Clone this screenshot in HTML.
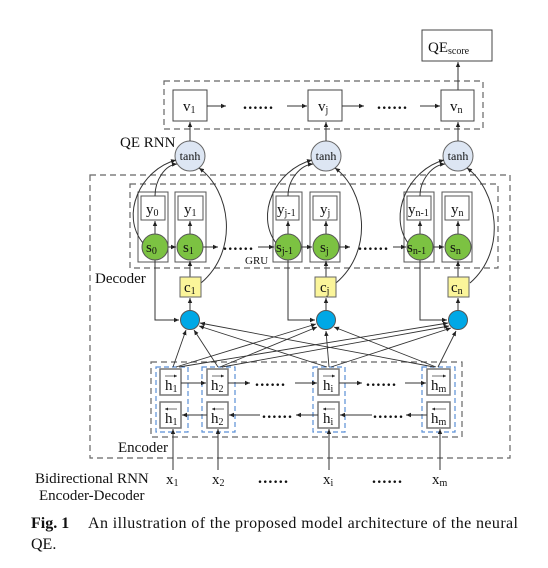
<!DOCTYPE html>
<html><head><meta charset="utf-8"><style>
html,body{margin:0;padding:0;background:#fff;width:548px;height:568px;overflow:hidden}
svg{display:block}
text{font-family:"Liberation Serif",serif;fill:#111}
.d{font-size:16px;letter-spacing:1.2px;font-weight:bold}
</style></head><body>
<svg width="548" height="568" viewBox="0 0 548 568" xmlns="http://www.w3.org/2000/svg">
<defs>
<marker id="a" markerWidth="6" markerHeight="6" refX="5" refY="3" orient="auto" markerUnits="userSpaceOnUse"><path d="M0,0.8 L5,3 L0,5.2 z" fill="#222"/></marker>
<marker id="b" markerWidth="4" markerHeight="4" refX="3" refY="2" orient="auto" markerUnits="userSpaceOnUse"><path d="M0,0.5 L3,2 L0,3.5 z" fill="#222"/></marker>
</defs>
<g fill="none" stroke="#666" stroke-width="1.2" stroke-dasharray="6,4">
<rect x="164" y="81" width="319" height="48"/>
<rect x="90" y="175" width="420" height="283"/>
<rect x="130" y="184" width="368" height="84"/>
<rect x="151" y="362" width="311" height="75"/>
</g>
<g fill="none" stroke="#5a8fd6" stroke-width="1.2" stroke-dasharray="5,3">
<rect x="156" y="367" width="32" height="65"/>
<rect x="202" y="367" width="33" height="65"/>
<rect x="313" y="367" width="32" height="65"/>
<rect x="422" y="367" width="33" height="65"/>
</g>
<rect x="422" y="30" width="70" height="31" fill="#fff" stroke="#444"/>
<text x="428" y="52" font-size="15">QE<tspan font-size="10" dy="2">score</tspan></text>
<line x1="458" y1="90" x2="458" y2="62" stroke="#333" marker-end="url(#a)"/>
<g stroke="#444" fill="#fff">
<rect x="173" y="90" width="34" height="31"/><rect x="308" y="90" width="34" height="31"/><rect x="441" y="90" width="33" height="31"/>
</g>
<text x="183" y="111" font-size="15">v<tspan font-size="10" dy="2">1</tspan></text>
<text x="318" y="111" font-size="15">v<tspan font-size="10" dy="2">j</tspan></text>
<text x="450" y="111" font-size="15">v<tspan font-size="10" dy="2">n</tspan></text>
<g stroke="#333" fill="none">
<line x1="207" y1="106" x2="226" y2="106" marker-end="url(#a)"/>
<line x1="287" y1="106" x2="307" y2="106" marker-end="url(#a)"/>
<line x1="342" y1="106" x2="364" y2="106" marker-end="url(#a)"/>
<line x1="420" y1="106" x2="440" y2="106" marker-end="url(#a)"/>
</g>
<text x="243" y="109" class="d">......</text>
<text x="377" y="109" class="d">......</text>
<text x="120" y="147" font-size="15">QE RNN</text>
<g stroke="#666" fill="#dde6f3">
<circle cx="190" cy="156" r="15"/><circle cx="326" cy="156" r="15"/><circle cx="458" cy="156" r="15"/>
</g>
<text x="190" y="160" font-size="12" text-anchor="middle">tanh</text>
<text x="326" y="160" font-size="12" text-anchor="middle">tanh</text>
<text x="458" y="160" font-size="12" text-anchor="middle">tanh</text>
<g stroke="#333" fill="none">
<line x1="190" y1="141" x2="190" y2="122" marker-end="url(#a)"/>
<line x1="326" y1="141" x2="326" y2="122" marker-end="url(#a)"/>
<line x1="458" y1="141" x2="458" y2="122" marker-end="url(#a)"/>
</g>
<g stroke="#555" fill="#fff">
<rect x="138" y="192" width="30" height="70"/><rect x="175" y="192" width="31" height="70"/>
<rect x="273" y="192" width="29" height="70"/><rect x="310" y="192" width="30" height="70"/>
<rect x="404" y="192" width="30" height="70"/><rect x="442" y="192" width="30" height="70"/>
<rect x="141" y="196" width="24" height="24"/><rect x="178" y="196" width="25" height="24"/>
<rect x="276" y="196" width="23" height="24"/><rect x="313" y="196" width="24" height="24"/>
<rect x="407" y="196" width="24" height="24"/><rect x="445" y="196" width="24" height="24"/>
</g>
<text x="146" y="214" font-size="15">y<tspan font-size="10" dy="2">0</tspan></text>
<text x="184" y="214" font-size="15">y<tspan font-size="10" dy="2">1</tspan></text>
<text x="277" y="214" font-size="15">y<tspan font-size="10" dy="2">j-1</tspan></text>
<text x="320" y="214" font-size="15">y<tspan font-size="10" dy="2">j</tspan></text>
<text x="408" y="214" font-size="15">y<tspan font-size="10" dy="2">n-1</tspan></text>
<text x="451" y="214" font-size="15">y<tspan font-size="10" dy="2">n</tspan></text>
<g stroke="#333" fill="none">
<line x1="155" y1="234" x2="155" y2="221" marker-end="url(#a)"/>
<line x1="190" y1="234" x2="190" y2="221" marker-end="url(#a)"/>
<line x1="288" y1="234" x2="288" y2="221" marker-end="url(#a)"/>
<line x1="326" y1="234" x2="326" y2="221" marker-end="url(#a)"/>
<line x1="420" y1="234" x2="420" y2="221" marker-end="url(#a)"/>
<line x1="458" y1="234" x2="458" y2="221" marker-end="url(#a)"/>
<line x1="168" y1="247" x2="176" y2="247" marker-end="url(#a)"/>
<line x1="203" y1="247" x2="218" y2="247" marker-end="url(#a)"/>
<line x1="258" y1="247" x2="274" y2="247" marker-end="url(#a)"/>
<line x1="301" y1="247" x2="312" y2="247" marker-end="url(#a)"/>
<line x1="339" y1="247" x2="350" y2="247" marker-end="url(#a)"/>
<line x1="393" y1="247" x2="406" y2="247" marker-end="url(#a)"/>
<line x1="433" y1="247" x2="444" y2="247" marker-end="url(#a)"/>
<path d="M143,243 C120,215 140,170 176,160" marker-end="url(#a)"/>
<path d="M155,196 C155,180 165,165 177,164" marker-end="url(#a)"/>
<path d="M201,283 C240,250 230,190 199,168" marker-end="url(#a)"/>
<path d="M276,243 C255,215 275,170 312,160" marker-end="url(#a)"/>
<path d="M288,196 C288,180 300,165 313,164" marker-end="url(#a)"/>
<path d="M336,283 C375,250 365,190 335,168" marker-end="url(#a)"/>
<path d="M408,243 C388,215 408,170 444,160" marker-end="url(#a)"/>
<path d="M420,196 C420,180 432,165 445,164" marker-end="url(#a)"/>
<path d="M470,283 C508,250 497,190 467,168" marker-end="url(#a)"/>
<line x1="190" y1="277" x2="190" y2="261" marker-end="url(#a)"/>
<line x1="326" y1="277" x2="326" y2="261" marker-end="url(#a)"/>
<line x1="458" y1="277" x2="458" y2="261" marker-end="url(#a)"/>
<line x1="190" y1="311" x2="190" y2="298" marker-end="url(#a)"/>
<line x1="326" y1="311" x2="326" y2="298" marker-end="url(#a)"/>
<line x1="458" y1="311" x2="458" y2="298" marker-end="url(#a)"/>
<path d="M155,259 V320 H179" marker-end="url(#a)"/>
<path d="M288,259 V320 H315" marker-end="url(#a)"/>
<path d="M420,259 V320 H447" marker-end="url(#a)"/>
</g>
<g stroke="#555" fill="#7cc242">
<circle cx="155" cy="247" r="13"/><circle cx="190" cy="247" r="13"/>
<circle cx="288" cy="247" r="13"/><circle cx="326" cy="247" r="13"/>
<circle cx="420" cy="247" r="13"/><circle cx="458" cy="247" r="13"/>
</g>
<text x="146" y="252" font-size="15">s<tspan font-size="10" dy="2">0</tspan></text>
<text x="183" y="252" font-size="15">s<tspan font-size="10" dy="2">1</tspan></text>
<text x="276" y="252" font-size="15">s<tspan font-size="10" dy="2">j-1</tspan></text>
<text x="320" y="252" font-size="15">s<tspan font-size="10" dy="2">j</tspan></text>
<text x="407" y="252" font-size="15">s<tspan font-size="10" dy="2">n-1</tspan></text>
<text x="450" y="252" font-size="15">s<tspan font-size="10" dy="2">n</tspan></text>
<text x="223" y="250" class="d">......</text>
<text x="358" y="250" class="d">......</text>
<text x="245" y="264" font-size="11">GRU</text>
<text x="95" y="283" font-size="15">Decoder</text>
<g stroke="#666" fill="#fbf59a">
<rect x="180" y="277" width="21" height="20"/><rect x="315" y="277" width="21" height="20"/><rect x="448" y="277" width="21" height="20"/>
</g>
<text x="184" y="292" font-size="15">c<tspan font-size="10" dy="2">1</tspan></text>
<text x="320" y="292" font-size="15">c<tspan font-size="10" dy="2">j</tspan></text>
<text x="451" y="292" font-size="15">c<tspan font-size="10" dy="2">n</tspan></text>
<g stroke="#333" fill="none" stroke-width="0.9">
<line x1="173" y1="367" x2="186" y2="330" marker-end="url(#a)"/>
<line x1="176" y1="367" x2="316" y2="324" marker-end="url(#a)"/>
<line x1="179" y1="367" x2="448" y2="323" marker-end="url(#a)"/>
<line x1="218" y1="367" x2="194" y2="330" marker-end="url(#a)"/>
<line x1="220" y1="367" x2="317" y2="327" marker-end="url(#a)"/>
<line x1="222" y1="367" x2="449" y2="326" marker-end="url(#a)"/>
<line x1="327" y1="367" x2="199" y2="326" marker-end="url(#a)"/>
<line x1="329" y1="367" x2="326" y2="331" marker-end="url(#a)"/>
<line x1="331" y1="367" x2="451" y2="328" marker-end="url(#a)"/>
<line x1="434" y1="367" x2="200" y2="323" marker-end="url(#a)"/>
<line x1="436" y1="367" x2="334" y2="327" marker-end="url(#a)"/>
<line x1="438" y1="367" x2="456" y2="331" marker-end="url(#a)"/>
</g>
<g stroke="#555" fill="#00a8e6">
<circle cx="190" cy="320" r="9.5"/><circle cx="326" cy="320" r="9.5"/><circle cx="458" cy="320" r="9.5"/>
</g>
<g stroke="#777" stroke-width="1.5" fill="#fff">
<rect x="160" y="369" width="21" height="26"/><rect x="207" y="369" width="21" height="26"/><rect x="318" y="369" width="21" height="26"/><rect x="427" y="369" width="23" height="26"/>
<rect x="160" y="402" width="21" height="26"/><rect x="207" y="402" width="21" height="26"/><rect x="318" y="402" width="21" height="26"/><rect x="427" y="402" width="23" height="26"/>
</g>
<g font-size="15">
<text x="165" y="390">h<tspan font-size="10" dy="2">1</tspan></text>
<text x="211" y="390">h<tspan font-size="10" dy="2">2</tspan></text>
<text x="323" y="390">h<tspan font-size="10" dy="2">i</tspan></text>
<text x="431" y="390">h<tspan font-size="10" dy="2">m</tspan></text>
<text x="165" y="423">h<tspan font-size="10" dy="2">1</tspan></text>
<text x="211" y="423">h<tspan font-size="10" dy="2">2</tspan></text>
<text x="323" y="423">h<tspan font-size="10" dy="2">i</tspan></text>
<text x="431" y="423">h<tspan font-size="10" dy="2">m</tspan></text>
</g>
<g stroke="#333" fill="none" stroke-width="0.7">
<line x1="165" y1="376" x2="177" y2="376" marker-end="url(#b)"/>
<line x1="212" y1="376" x2="224" y2="376" marker-end="url(#b)"/>
<line x1="323" y1="376" x2="335" y2="376" marker-end="url(#b)"/>
<line x1="432" y1="376" x2="446" y2="376" marker-end="url(#b)"/>
<line x1="177" y1="409" x2="165" y2="409" marker-end="url(#b)"/>
<line x1="224" y1="409" x2="212" y2="409" marker-end="url(#b)"/>
<line x1="335" y1="409" x2="323" y2="409" marker-end="url(#b)"/>
<line x1="446" y1="409" x2="432" y2="409" marker-end="url(#b)"/>
</g>
<g stroke="#333" fill="none">
<line x1="181" y1="383" x2="206" y2="383" marker-end="url(#a)"/>
<line x1="228" y1="383" x2="250" y2="383" marker-end="url(#a)"/>
<line x1="295" y1="383" x2="317" y2="383" marker-end="url(#a)"/>
<line x1="339" y1="383" x2="362" y2="383" marker-end="url(#a)"/>
<line x1="405" y1="383" x2="426" y2="383" marker-end="url(#a)"/>
<line x1="207" y1="415" x2="182" y2="415" marker-end="url(#a)"/>
<line x1="260" y1="415" x2="229" y2="415" marker-end="url(#a)"/>
<line x1="318" y1="415" x2="296" y2="415" marker-end="url(#a)"/>
<line x1="372" y1="415" x2="340" y2="415" marker-end="url(#a)"/>
<line x1="427" y1="415" x2="406" y2="415" marker-end="url(#a)"/>
<line x1="173" y1="470" x2="173" y2="429" marker-end="url(#a)"/>
<line x1="218" y1="470" x2="218" y2="429" marker-end="url(#a)"/>
<line x1="329" y1="470" x2="329" y2="429" marker-end="url(#a)"/>
<line x1="440" y1="470" x2="440" y2="429" marker-end="url(#a)"/>
</g>
<text x="255" y="386" class="d">......</text>
<text x="366" y="386" class="d">......</text>
<text x="262" y="418" class="d">......</text>
<text x="373" y="418" class="d">......</text>
<text x="118" y="452" font-size="15">Encoder</text>
<text x="166" y="484" font-size="15">x<tspan font-size="10" dy="2">1</tspan></text>
<text x="212" y="484" font-size="15">x<tspan font-size="10" dy="2">2</tspan></text>
<text x="323" y="484" font-size="15">x<tspan font-size="10" dy="2">i</tspan></text>
<text x="432" y="484" font-size="15">x<tspan font-size="10" dy="2">m</tspan></text>
<text x="258" y="483" class="d">......</text>
<text x="372" y="483" class="d">......</text>
<text x="35" y="483" font-size="15">Bidirectional RNN</text>
<text x="39" y="500" font-size="15">Encoder-Decoder</text>
<text x="31" y="528" font-size="16" font-weight="bold">Fig. 1</text>
<text x="88" y="528" font-size="16" textLength="430" lengthAdjust="spacing">An illustration of the proposed model architecture of the neural</text>
<text x="31" y="549" font-size="16">QE.</text>
</svg>
</body></html>
